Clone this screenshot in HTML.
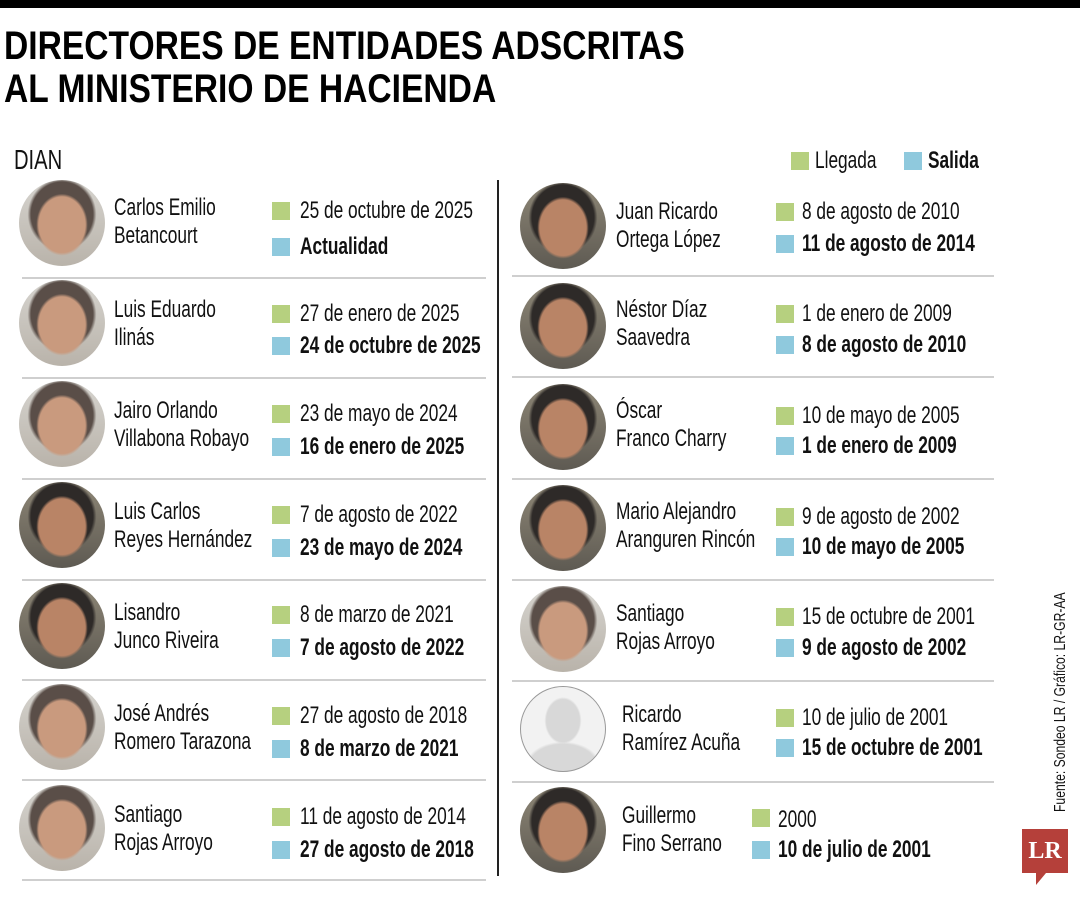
<!DOCTYPE html>
<html><head><meta charset="utf-8"><style>
body{margin:0;background:#fff;}
#c{position:relative;width:1080px;height:900px;overflow:hidden;background:#fff;font-family:"Liberation Sans",sans-serif;color:#111;}
.t{position:absolute;height:28px;line-height:28px;font-size:24px;white-space:nowrap;transform:scaleX(.72);transform-origin:left center;}
.b{font-weight:bold;}
.sq{position:absolute;width:18px;height:18px;}
.g{background:#b6d07f;}
.bl{background:#8fc9dd;}
.ph{position:absolute;width:86px;height:86px;border-radius:50%;overflow:hidden;background:radial-gradient(ellipse 30% 36% at 50% 52%,#c99a7e 0 90%,transparent 100%),radial-gradient(ellipse 40% 42% at 50% 40%,#5a4e48 0 90%,transparent 100%),linear-gradient(#d6d4cf,#b9b3aa);}
.ph.d{background:radial-gradient(ellipse 30% 36% at 50% 52%,#b98466 0 90%,transparent 100%),radial-gradient(ellipse 40% 42% at 50% 40%,#2e2a28 0 90%,transparent 100%),linear-gradient(#8d8676,#5e5a52);}
.ph.n{background:radial-gradient(ellipse 22% 28% at 50% 40%,#d8d8d8 0 90%,transparent 100%),radial-gradient(ellipse 45% 30% at 50% 95%,#d8d8d8 0 90%,transparent 100%),#f2f2f2;border:1px solid #999;width:84px;height:84px;}
.hl{position:absolute;height:2px;background:#cfcfcf;}
.title{position:absolute;left:4px;font-weight:bold;font-size:40px;line-height:44px;white-space:nowrap;transform:scaleX(.84);transform-origin:left center;color:#000;}
</style></head><body><div id="c">
<div style="position:absolute;left:0;top:0;width:1080px;height:8px;background:#000"></div>
<div class="title" style="top:24px">DIRECTORES DE ENTIDADES ADSCRITAS</div>
<div class="title" style="top:67px">AL MINISTERIO DE HACIENDA</div>
<div class="t" style="left:14px;top:146px;font-size:28px;">DIAN</div>
<div class="sq g" style="left:791px;top:152px"></div><div class="t" style="left:815px;top:147px">Llegada</div>
<div class="sq bl" style="left:904px;top:152px"></div><div class="t b" style="left:928px;top:147px">Salida</div>
<div style="position:absolute;left:497px;top:180px;width:2px;height:696px;background:#222"></div>

<!-- left column -->
<div class="ph" style="left:19px;top:180px"></div>
<div class="t" style="left:114px;top:194px">Carlos Emilio</div><div class="t" style="left:114px;top:222px">Betancourt</div>
<div class="sq g" style="left:272px;top:202px"></div><div class="t" style="left:300px;top:197px">25 de octubre de 2025</div>
<div class="sq bl" style="left:272px;top:238px"></div><div class="t b" style="left:300px;top:233px">Actualidad</div>
<div class="hl" style="left:22px;top:277px;width:464px"></div>

<div class="ph" style="left:19px;top:280px"></div>
<div class="t" style="left:114px;top:296px">Luis Eduardo</div><div class="t" style="left:114px;top:324px">Ilinás</div>
<div class="sq g" style="left:272px;top:305px"></div><div class="t" style="left:300px;top:300px">27 de enero de 2025</div>
<div class="sq bl" style="left:272px;top:337px"></div><div class="t b" style="left:300px;top:332px">24 de octubre de 2025</div>
<div class="hl" style="left:22px;top:377px;width:464px"></div>

<div class="ph" style="left:19px;top:381px"></div>
<div class="t" style="left:114px;top:397px">Jairo Orlando</div><div class="t" style="left:114px;top:425px">Villabona Robayo</div>
<div class="sq g" style="left:272px;top:405px"></div><div class="t" style="left:300px;top:400px">23 de mayo de 2024</div>
<div class="sq bl" style="left:272px;top:438px"></div><div class="t b" style="left:300px;top:433px">16 de enero de 2025</div>
<div class="hl" style="left:22px;top:478px;width:464px"></div>

<div class="ph d" style="left:19px;top:482px"></div>
<div class="t" style="left:114px;top:498px">Luis Carlos</div><div class="t" style="left:114px;top:526px">Reyes Hernández</div>
<div class="sq g" style="left:272px;top:506px"></div><div class="t" style="left:300px;top:501px">7 de agosto de 2022</div>
<div class="sq bl" style="left:272px;top:539px"></div><div class="t b" style="left:300px;top:534px">23 de mayo de 2024</div>
<div class="hl" style="left:22px;top:579px;width:464px"></div>

<div class="ph d" style="left:19px;top:583px"></div>
<div class="t" style="left:114px;top:599px">Lisandro</div><div class="t" style="left:114px;top:627px">Junco Riveira</div>
<div class="sq g" style="left:272px;top:606px"></div><div class="t" style="left:300px;top:601px">8 de marzo de 2021</div>
<div class="sq bl" style="left:272px;top:639px"></div><div class="t b" style="left:300px;top:634px">7 de agosto de 2022</div>
<div class="hl" style="left:22px;top:679px;width:464px"></div>

<div class="ph" style="left:19px;top:684px"></div>
<div class="t" style="left:114px;top:700px">José Andrés</div><div class="t" style="left:114px;top:728px">Romero Tarazona</div>
<div class="sq g" style="left:272px;top:707px"></div><div class="t" style="left:300px;top:702px">27 de agosto de 2018</div>
<div class="sq bl" style="left:272px;top:740px"></div><div class="t b" style="left:300px;top:735px">8 de marzo de 2021</div>
<div class="hl" style="left:22px;top:779px;width:464px"></div>

<div class="ph" style="left:19px;top:785px"></div>
<div class="t" style="left:114px;top:801px">Santiago</div><div class="t" style="left:114px;top:829px">Rojas Arroyo</div>
<div class="sq g" style="left:272px;top:808px"></div><div class="t" style="left:300px;top:803px">11 de agosto de 2014</div>
<div class="sq bl" style="left:272px;top:841px"></div><div class="t b" style="left:300px;top:836px">27 de agosto de 2018</div>
<div class="hl" style="left:22px;top:879px;width:464px"></div>

<!-- right column -->
<div class="ph d" style="left:520px;top:183px"></div>
<div class="t" style="left:616px;top:198px">Juan Ricardo</div><div class="t" style="left:616px;top:226px">Ortega López</div>
<div class="sq g" style="left:776px;top:203px"></div><div class="t" style="left:802px;top:198px">8 de agosto de 2010</div>
<div class="sq bl" style="left:776px;top:235px"></div><div class="t b" style="left:802px;top:230px">11 de agosto de 2014</div>
<div class="hl" style="left:512px;top:275px;width:482px"></div>

<div class="ph d" style="left:520px;top:283px"></div>
<div class="t" style="left:616px;top:296px">Néstor Díaz</div><div class="t" style="left:616px;top:324px">Saavedra</div>
<div class="sq g" style="left:776px;top:305px"></div><div class="t" style="left:802px;top:300px">1 de enero de 2009</div>
<div class="sq bl" style="left:776px;top:336px"></div><div class="t b" style="left:802px;top:331px">8 de agosto de 2010</div>
<div class="hl" style="left:512px;top:376px;width:482px"></div>

<div class="ph d" style="left:520px;top:384px"></div>
<div class="t" style="left:616px;top:397px">Óscar</div><div class="t" style="left:616px;top:425px">Franco Charry</div>
<div class="sq g" style="left:776px;top:407px"></div><div class="t" style="left:802px;top:402px">10 de mayo de 2005</div>
<div class="sq bl" style="left:776px;top:437px"></div><div class="t b" style="left:802px;top:432px">1 de enero de 2009</div>
<div class="hl" style="left:512px;top:478px;width:482px"></div>

<div class="ph d" style="left:520px;top:485px"></div>
<div class="t" style="left:616px;top:498px">Mario Alejandro</div><div class="t" style="left:616px;top:526px">Aranguren Rincón</div>
<div class="sq g" style="left:776px;top:508px"></div><div class="t" style="left:802px;top:503px">9 de agosto de 2002</div>
<div class="sq bl" style="left:776px;top:538px"></div><div class="t b" style="left:802px;top:533px">10 de mayo de 2005</div>
<div class="hl" style="left:512px;top:579px;width:482px"></div>

<div class="ph" style="left:520px;top:586px"></div>
<div class="t" style="left:616px;top:600px">Santiago</div><div class="t" style="left:616px;top:628px">Rojas Arroyo</div>
<div class="sq g" style="left:776px;top:608px"></div><div class="t" style="left:802px;top:603px">15 de octubre de 2001</div>
<div class="sq bl" style="left:776px;top:639px"></div><div class="t b" style="left:802px;top:634px">9 de agosto de 2002</div>
<div class="hl" style="left:512px;top:680px;width:482px"></div>

<div class="ph n" style="left:520px;top:686px"></div>
<div class="t" style="left:622px;top:701px">Ricardo</div><div class="t" style="left:622px;top:729px">Ramírez Acuña</div>
<div class="sq g" style="left:776px;top:709px"></div><div class="t" style="left:802px;top:704px">10 de julio de 2001</div>
<div class="sq bl" style="left:776px;top:739px"></div><div class="t b" style="left:802px;top:734px">15 de octubre de 2001</div>
<div class="hl" style="left:512px;top:781px;width:482px"></div>

<div class="ph d" style="left:520px;top:787px"></div>
<div class="t" style="left:622px;top:802px">Guillermo</div><div class="t" style="left:622px;top:830px">Fino Serrano</div>
<div class="sq g" style="left:752px;top:809px"></div><div class="t" style="left:778px;top:806px">2000</div>
<div class="sq bl" style="left:752px;top:841px"></div><div class="t b" style="left:778px;top:836px">10 de julio de 2001</div>

<div style="position:absolute;left:1052px;top:812px;font-size:16px;white-space:nowrap;transform:rotate(-90deg) scaleX(.76);transform-origin:left top;color:#111;width:260px">Fuente: Sondeo LR / Gráfico: LR-GR-AA</div>
<div style="position:absolute;left:1022px;top:829px;width:46px;height:44px;background:#b5403a;color:#fff;font-family:'Liberation Serif',serif;font-weight:bold;font-size:24px;line-height:44px;text-align:center">LR</div>
<div style="position:absolute;left:1036px;top:873px;width:0;height:0;border-left:10px solid #b5403a;border-bottom:12px solid transparent"></div>
</div></body></html>
